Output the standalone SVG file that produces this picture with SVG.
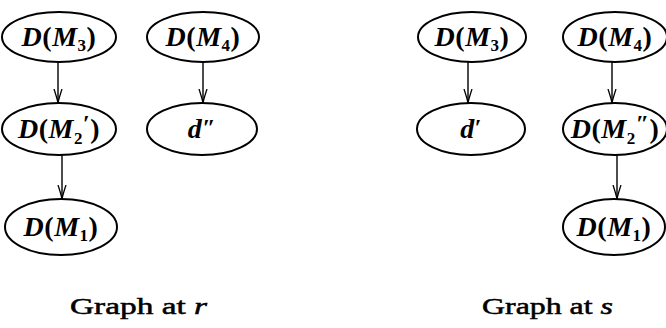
<svg xmlns="http://www.w3.org/2000/svg" width="666" height="328" viewBox="0 0 666 328">
<style>
.n{fill:#fff;stroke:#000;stroke-width:2}
.l{font-family:"Liberation Serif","DejaVu Serif",serif;font-weight:bold;font-size:28px;fill:#000;text-anchor:middle;letter-spacing:0.5px}
.i{font-style:italic}
.s{font-size:17px;font-style:normal}
.p{font-size:24px;font-style:normal}
.c{font-family:"Liberation Serif","DejaVu Serif",serif;font-size:23px;fill:#000;stroke:#000;stroke-width:0.5}
.e{fill:none;stroke:#000;stroke-width:1.4}
</style>
<defs>
<marker id="ar" viewBox="0 0 14 10" refX="14" refY="5" markerWidth="14" markerHeight="10" markerUnits="userSpaceOnUse" orient="auto">
<path d="M0,1 Q9,4 14,5 Q9,6 0,9" fill="none" stroke="#000" stroke-width="1.3"/>
</marker>
</defs>
<g id="connectors">
<line class="e" x1="58" y1="62" x2="58" y2="103" marker-end="url(#ar)"/>
<line class="e" x1="62" y1="155" x2="62" y2="199" marker-end="url(#ar)"/>
<line class="e" x1="203" y1="62" x2="203" y2="103" marker-end="url(#ar)"/>
<line class="e" x1="468" y1="62" x2="468" y2="103" marker-end="url(#ar)"/>
<line class="e" x1="612" y1="62" x2="612" y2="103" marker-end="url(#ar)"/>
<line class="e" x1="617" y1="155" x2="617" y2="199" marker-end="url(#ar)"/>
</g>
<g id="r_DM3">
<ellipse class="n" cx="59" cy="37" rx="57" ry="25"/>
<text class="l" x="59" y="46"><tspan class="i">D</tspan>(<tspan class="i">M</tspan><tspan class="s" dy="5">3</tspan><tspan dy="-5">)</tspan></text>
</g>
<g id="r_DM4">
<ellipse class="n" cx="203" cy="37" rx="56" ry="25"/>
<text class="l" x="203" y="46"><tspan class="i">D</tspan>(<tspan class="i">M</tspan><tspan class="s" dy="5">4</tspan><tspan dy="-5">)</tspan></text>
</g>
<g id="r_DM2p">
<ellipse class="n" cx="59" cy="129" rx="57" ry="26"/>
<text class="l" x="59" y="138"><tspan class="i">D</tspan>(<tspan class="i">M</tspan><tspan class="s" dy="6">2</tspan><tspan class="p" dy="-13">′</tspan><tspan dy="7">)</tspan></text>
</g>
<g id="r_dpp">
<ellipse class="n" cx="202" cy="129" rx="55" ry="26"/>
<text class="l" x="202" y="138"><tspan class="i">d</tspan><tspan class="p" dy="-3">″</tspan></text>
</g>
<g id="r_DM1">
<ellipse class="n" cx="61" cy="227" rx="56" ry="28"/>
<text class="l" x="61" y="236"><tspan class="i">D</tspan>(<tspan class="i">M</tspan><tspan class="s" dy="5">1</tspan><tspan dy="-5">)</tspan></text>
</g>
<g id="s_DM3">
<ellipse class="n" cx="472" cy="37" rx="54" ry="25"/>
<text class="l" x="472" y="46"><tspan class="i">D</tspan>(<tspan class="i">M</tspan><tspan class="s" dy="5">3</tspan><tspan dy="-5">)</tspan></text>
</g>
<g id="s_dp">
<ellipse class="n" cx="471" cy="129" rx="54" ry="26"/>
<text class="l" x="471" y="138"><tspan class="i">d</tspan><tspan class="p" dy="-3">′</tspan></text>
</g>
<g id="s_DM4">
<ellipse class="n" cx="615" cy="37" rx="52" ry="25"/>
<text class="l" x="615" y="46"><tspan class="i">D</tspan>(<tspan class="i">M</tspan><tspan class="s" dy="5">4</tspan><tspan dy="-5">)</tspan></text>
</g>
<g id="s_DM2pp">
<ellipse class="n" cx="615" cy="129" rx="52" ry="26"/>
<text class="l" x="615" y="138"><tspan class="i">D</tspan>(<tspan class="i">M</tspan><tspan class="s" dy="6">2</tspan><tspan class="p" dy="-13">″</tspan><tspan dy="7">)</tspan></text>
</g>
<g id="s_DM1">
<ellipse class="n" cx="614" cy="227" rx="51" ry="28"/>
<text class="l" x="614" y="236"><tspan class="i">D</tspan>(<tspan class="i">M</tspan><tspan class="s" dy="5">1</tspan><tspan dy="-5">)</tspan></text>
</g>
<g id="captions">
<text class="c" x="70" y="314" textLength="137" lengthAdjust="spacingAndGlyphs">Graph at <tspan font-style="italic">r</tspan></text>
<text class="c" x="482" y="314" textLength="131" lengthAdjust="spacingAndGlyphs">Graph at <tspan font-style="italic">s</tspan></text>
</g>
</svg>
